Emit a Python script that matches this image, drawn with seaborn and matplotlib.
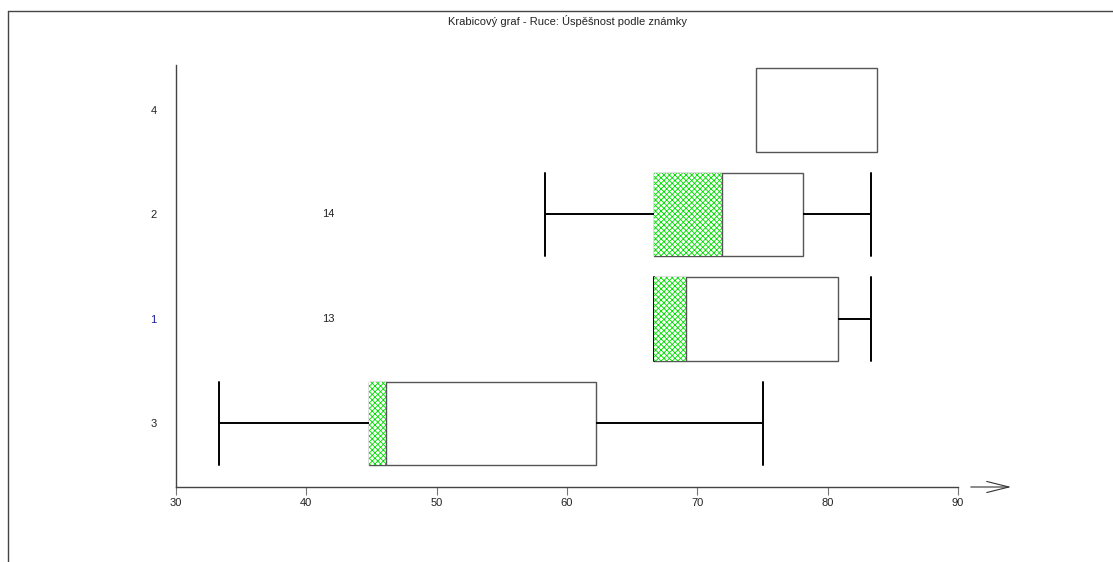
import matplotlib

matplotlib.use("Agg")
import matplotlib.pyplot as plt
import pandas as pd
import seaborn as sns
from matplotlib.lines import Line2D

# grades in display order (top to bottom)
grades = ["4", "2", "1", "3"]
# five-number summaries, in %
minimum = [74.5, 58.3, 66.7, 33.3]
q1 = [74.5, 66.7, 66.7, 44.8]
median = [74.5, 71.9, 69.1, 46.1]
q3 = [83.8, 78.1, 80.8, 62.2]
maximum = [83.8, 83.3, 83.3, 75.0]
# count labels shown left of the boxes
counts = ["", "14", "13", ""]
count_x = 41.7
tick_colors = ["#222222", "#222222", "#1c1c9a", "#222222"]

TITLE = "Krabicový graf - Ruce: Úspěšnost podle známky"


def main():
    sns.set_theme(style="white")
    plt.rcParams["font.family"] = ["Liberation Sans", "DejaVu Sans"]
    plt.rcParams["hatch.linewidth"] = 0.6
    plt.rcParams["hatch.color"] = "#00dd00"

    # five values per group -> quartiles land exactly on q1 / median / q3
    rows = []
    for g, a, b, c, d, e in zip(grades, minimum, q1, median, q3, maximum):
        for v in (a, b, c, d, e):
            rows.append({"grade": g, "score": v})
    df = pd.DataFrame(rows)

    fig = plt.figure(figsize=(11.13, 5.62), dpi=100)
    ax = fig.add_axes([176 / 1113, 1 - 487 / 562, (958 - 176) / 1113, (487 - 65) / 562])

    sns.boxplot(
        data=df, x="score", y="grade", order=grades, orient="h",
        whis=(0, 100), width=0.8, color="white", linecolor="#555555",
        linewidth=1.0, showfliers=False, capwidths=0.8,
        boxprops=dict(edgecolor="#555555", linewidth=1.0, zorder=2),
        whiskerprops=dict(color="black", linewidth=1.4),
        capprops=dict(color="black", linewidth=1.4),
        medianprops=dict(color="#555555", linewidth=1.0, zorder=5),
        ax=ax,
    )

    # grade 4 has no whiskers or median drawn
    box4 = ax.containers[0]
    for art in list(box4.caps[:2]) + list(box4.whiskers[:2]) + list(box4.medians[:1]):
        art.set_visible(False)

    # green cross-hatch between lower quartile and median
    widths = [m - a for m, a in zip(median, q1)]
    ax.barh(grades, widths, left=q1, height=0.8, color="white",
            hatch="xxxxxx", edgecolor="#00dd00", linewidth=0, zorder=3)

    for g, txt in zip(grades, counts):
        if txt:
            ax.text(count_x, g, txt, ha="center", va="center", fontsize=8, color="#222222")

    ax.set_xlim(30, 90)
    ax.set_ylim(3.61, -0.43)
    ax.set_xticks(range(30, 91, 10))
    ax.set_xlabel("")
    ax.set_ylabel("")
    sns.despine(ax=ax)
    for side in ("left", "bottom"):
        ax.spines[side].set_color("#444444")
        ax.spines[side].set_linewidth(1.0)
    ax.tick_params(axis="x", bottom=True, length=6, width=0.8, color="#777777",
                   labelsize=8, labelcolor="#222222", pad=2)
    ax.tick_params(axis="y", left=False, labelsize=8, pad=8)
    for lbl, col in zip(ax.get_yticklabels(), tick_colors):
        lbl.set_color(col)

    # arrow at the end of the x axis
    y_ax = 1 - 487 / 562
    ax.annotate("", xy=(1014 / 1113, y_ax), xytext=(968 / 1113, y_ax),
                xycoords="figure fraction", textcoords="figure fraction",
                arrowprops=dict(arrowstyle="->,head_length=1.6,head_width=0.4",
                                mutation_scale=10, lw=0.8, color="#333333"))

    # outer frame (top and left edges)
    y_top = 1 - 11 / 562
    fig.add_artist(Line2D([8 / 1113, 1], [y_top, y_top], transform=fig.transFigure,
                          color="#444444", lw=1.0))
    fig.add_artist(Line2D([8 / 1113, 8 / 1113], [0, y_top], transform=fig.transFigure,
                          color="#444444", lw=1.0))

    fig.text(567 / 1113, 1 - 21 / 562, TITLE, ha="center", va="center",
             fontsize=8, color="#222222")

    fig.savefig("out.png", dpi=100)
    plt.close(fig)


if __name__ == "__main__":
    main()
